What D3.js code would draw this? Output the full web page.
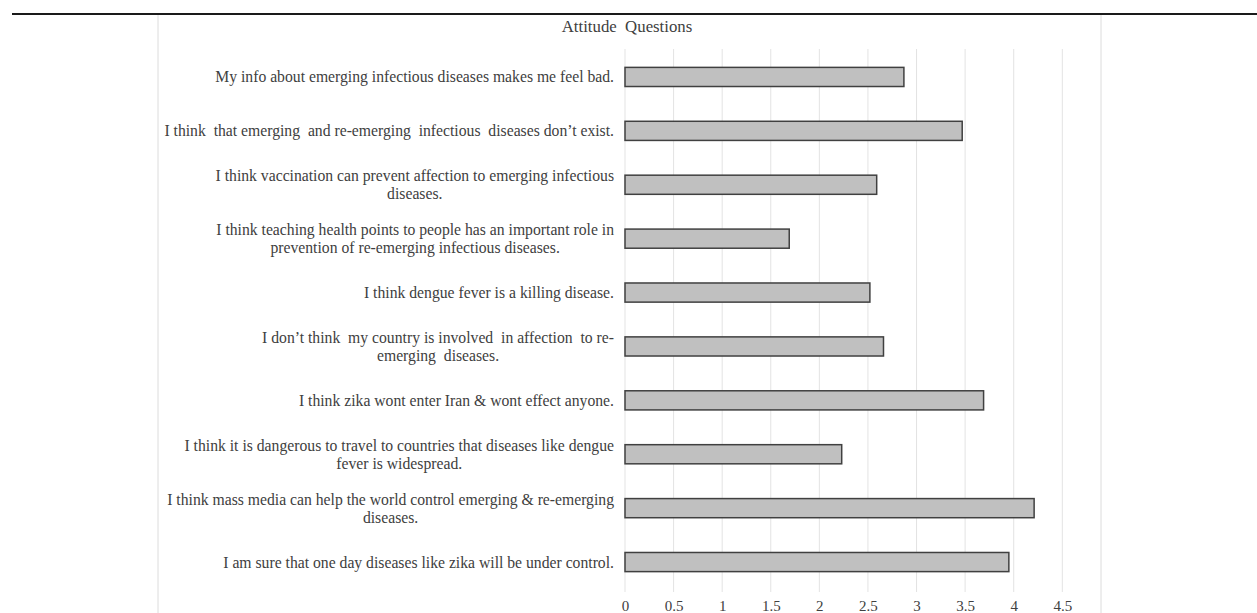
<!DOCTYPE html>
<html>
<head>
<meta charset="utf-8">
<script src="https://cdn.jsdelivr.net/npm/d3@7"></script>
<style>
  body { margin: 0; background: #fff; }
  svg { display: block; font-family: "Liberation Serif", "Times New Roman", serif; }
</style>
</head>
<body>
<div id="chart-container"></div>
<script>
// Question labels (top to bottom), split where the original wraps
const questions = [
  ["My info about emerging infectious diseases makes me feel bad."],
  ["I think  that emerging  and re-emerging  infectious  diseases don\u2019t exist."],
  ["I think vaccination can prevent affection to emerging infectious", "diseases."],
  ["I think teaching health points to people has an important role in", "prevention of re-emerging infectious diseases."],
  ["I think dengue fever is a killing disease."],
  ["I don\u2019t think  my country is involved  in affection  to re-", "emerging  diseases."],
  ["I think zika wont enter Iran & wont effect anyone."],
  ["I think it is dangerous to travel to countries that diseases like dengue", "fever is widespread."],
  ["I think mass media can help the world control emerging & re-emerging", "diseases."],
  ["I am sure that one day diseases like zika will be under control."]
];
const scores = [2.87, 3.47, 2.59, 1.69, 2.52, 2.66, 3.69, 2.23, 4.21, 3.95];
const xTicks = [0, 0.5, 1, 1.5, 2, 2.5, 3, 3.5, 4, 4.5];

const W = 1257, H = 613;
const plot = { left: 625, right: 1062.3, top: 50, bottom: 589 };

const svg = d3.select("#chart-container")
  .append("svg")
  .attr("width", W)
  .attr("height", H);

// page rule at the top and chart frame edges
svg.append("line")
  .attr("x1", 12).attr("x2", W)
  .attr("y1", 14).attr("y2", 14)
  .attr("stroke", "#1a1a1a")
  .attr("stroke-width", 2);

[158, 1101].forEach(x => {
  svg.append("line")
    .attr("x1", x).attr("x2", x)
    .attr("y1", 15).attr("y2", H)
    .attr("stroke", "#dcdcdc")
    .attr("stroke-width", 1);
});

const x = d3.scaleLinear()
  .domain([0, 4.5])
  .range([plot.left, plot.right]);

const y = d3.scaleBand()
  .domain(questions.map((d, i) => i))
  .range([plot.top, plot.bottom])
  .paddingInner(0.645)
  .paddingOuter(0.3225);

// gridlines
svg.append("g")
  .selectAll("line")
  .data(xTicks)
  .join("line")
  .attr("x1", d => x(d)).attr("x2", d => x(d))
  .attr("y1", plot.top - 1).attr("y2", plot.bottom + 3)
  .attr("stroke", "#e3e3e3")
  .attr("stroke-width", 1);

// x tick labels
const xAxis = d3.axisBottom(x)
  .tickValues(xTicks)
  .tickSize(0)
  .tickPadding(0)
  .tickFormat(d3.format("~g"));

const gx = svg.append("g")
  .attr("transform", `translate(0,${plot.bottom + 11})`)
  .call(xAxis);
gx.select(".domain").remove();
gx.selectAll("text")
  .attr("fill", "#404040")
  .style("font-size", "15px")
  .style("font-family", "'Liberation Serif', serif");

// bars
svg.append("g")
  .selectAll("rect")
  .data(scores)
  .join("rect")
  .attr("x", x(0))
  .attr("y", (d, i) => y(i))
  .attr("width", d => x(d) - x(0))
  .attr("height", y.bandwidth())
  .attr("fill", "#c0c0c0")
  .attr("stroke", "#404040")
  .attr("stroke-width", 1.5);

// category labels: right-aligned block, lines centered within it
const labelRight = 614;
const lineH = 18;
const lab = svg.append("g")
  .style("font-size", "15.7px")
  .attr("fill", "#404040");

questions.forEach((lines, i) => {
  const cy = y(i) + y.bandwidth() / 2;
  const t = lab.append("text").attr("text-anchor", "middle");
  const spans = lines.map((s, k) =>
    t.append("tspan")
      .attr("y", cy + (k - (lines.length - 1) / 2) * lineH)
      .attr("dy", "0.35em")
      .style("white-space", "pre")
      .text(s));
  const maxW = d3.max(spans, sp => sp.node().getComputedTextLength());
  spans.forEach(sp => sp.attr("x", labelRight - maxW / 2));
});

// title
svg.append("text")
  .attr("x", 627)
  .attr("y", 32)
  .attr("text-anchor", "middle")
  .attr("fill", "#404040")
  .style("font-size", "16.8px")
  .style("white-space", "pre")
  .text("Attitude  Questions");
</script>
</body>
</html>
